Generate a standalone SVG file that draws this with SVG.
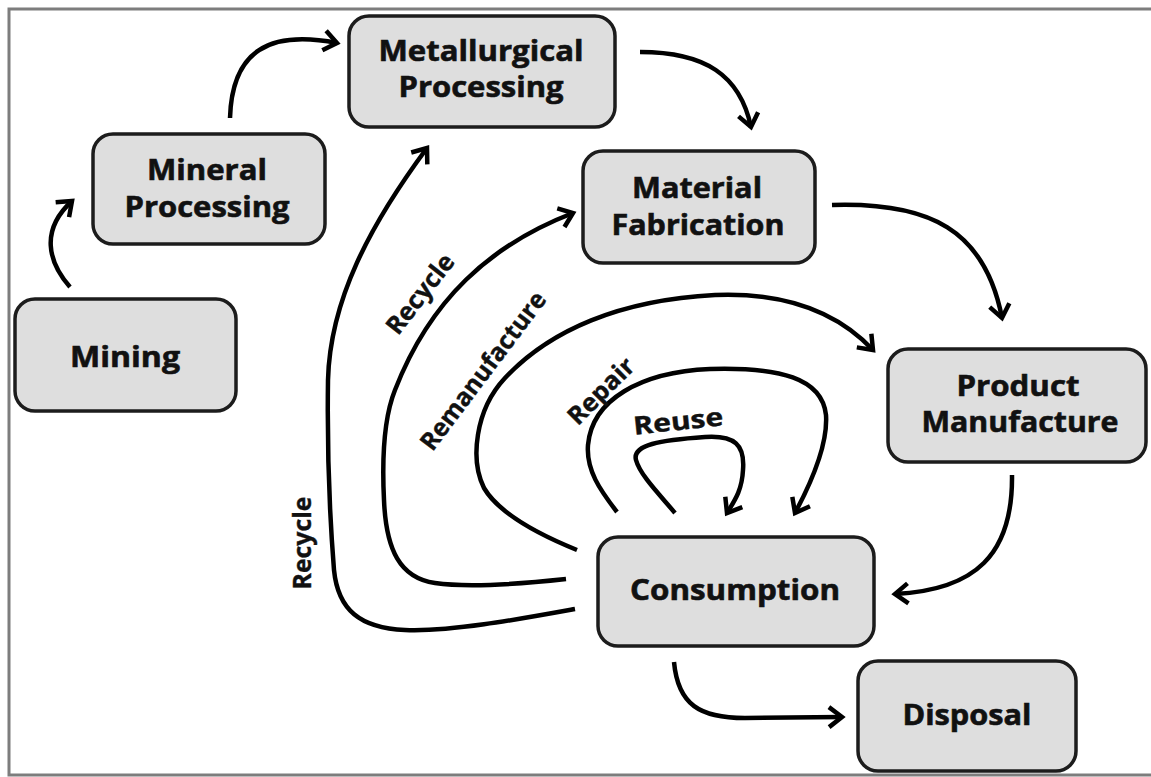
<svg xmlns="http://www.w3.org/2000/svg" width="1151" height="777" viewBox="0 0 1151 777">
<defs>
<style>
.box{fill:#dedede;stroke:#1c1c1c;stroke-width:3.5}
.t{font-family:"Open Sans","Liberation Sans",sans-serif;font-weight:700;font-size:28px;fill:#111;text-anchor:middle;stroke:#111;stroke-width:0.6}
.l{font-family:"Open Sans","Liberation Sans",sans-serif;font-weight:700;font-size:25px;fill:#111;text-anchor:middle;dominant-baseline:central;stroke:#111;stroke-width:0.4}
.c{fill:none;stroke:#000;stroke-width:4.5;stroke-linecap:butt;marker-end:url(#ah)}
</style>
<marker id="ah" markerUnits="userSpaceOnUse" markerWidth="40" markerHeight="40" viewBox="-20 -20 40 40" refX="0" refY="0" orient="auto">
<path d="M-13,-10 L0,0 L-13,10" fill="none" stroke="#000" stroke-width="4.5" stroke-linejoin="miter"/>
</marker>
</defs>
<rect x="0" y="0" width="1151" height="777" fill="#fff"/>
<rect x="9" y="9" width="1160" height="766" fill="none" stroke="#7d7d7d" stroke-width="3"/>

<g id="connectors">
<path class="c" d="M70,287 C48,262 40,230 72,201"/>
<path class="c" d="M230,118 C232,50 270,30 337,43"/>
<path class="c" d="M640,52 C705,52 740,75 751,127"/>
<path class="c" d="M832,205 C930,202 985,230 1002,318"/>
<path class="c" d="M1012,475 C1013,555 975,590 895,594"/>
<path class="c" d="M674,662 C678,705 700,718 745,718 L842,717"/>
<path class="c" d="M575,609 C520,619 450,632 405,630 C360,628 338,610 334,570 C330,520 327,450 328,380 C330,300 370,225 427,148"/>
<path class="c" d="M566,579 C520,584 470,588 435,583 C400,578 386,550 384,500 C382,460 383,420 395,390 C430,300 490,245 573,213"/>
<path class="c" d="M577,550 C540,535 500,515 484,488 C470,460 475,410 505,378 C550,330 620,300 715,295 C790,292 840,315 873,350"/>
<path class="c" d="M617,512 C600,490 586,470 588,445 C592,400 640,372 710,369 C780,367 822,378 826,415 C828,445 810,485 795,513"/>
<path class="c" d="M675,513 C660,495 640,475 636,460 C632,445 660,440 705,437 C735,435 745,445 743,470 C742,490 735,500 727,513"/>
<text class="l" transform="translate(301,543) rotate(-90)" textLength="93" lengthAdjust="spacingAndGlyphs">Recycle</text>
<text class="l" transform="translate(419,293) rotate(-52)" textLength="94" lengthAdjust="spacingAndGlyphs">Recycle</text>
<text class="l" transform="translate(482,370) rotate(-53)" textLength="191" lengthAdjust="spacingAndGlyphs">Remanufacture</text>
<text class="l" transform="translate(600,390) rotate(-45)" textLength="83" lengthAdjust="spacingAndGlyphs">Repair</text>
<text class="l" transform="translate(678,420) rotate(-6)" textLength="90" lengthAdjust="spacingAndGlyphs">Reuse</text>
</g>

<g id="mining">
<rect class="box" x="15" y="299" width="221" height="112" rx="20"/>
<text class="t" x="125" y="367" textLength="110" lengthAdjust="spacingAndGlyphs">Mining</text>
</g>
<g id="mineral-processing">
<rect class="box" x="93" y="134" width="232" height="110" rx="20"/>
<text class="t" x="207" y="180" textLength="120" lengthAdjust="spacingAndGlyphs">Mineral</text>
<text class="t" x="207" y="217" textLength="165" lengthAdjust="spacingAndGlyphs">Processing</text>
</g>
<g id="metallurgical-processing">
<rect class="box" x="349" y="16" width="266" height="111" rx="20"/>
<text class="t" x="481" y="61" textLength="205" lengthAdjust="spacingAndGlyphs">Metallurgical</text>
<text class="t" x="481" y="97" textLength="165" lengthAdjust="spacingAndGlyphs">Processing</text>
</g>
<g id="material-fabrication">
<rect class="box" x="583" y="151" width="232" height="112" rx="20"/>
<text class="t" x="697" y="198" textLength="130" lengthAdjust="spacingAndGlyphs">Material</text>
<text class="t" x="698" y="235" textLength="173" lengthAdjust="spacingAndGlyphs">Fabrication</text>
</g>
<g id="product-manufacture">
<rect class="box" x="888" y="349" width="258" height="113" rx="20"/>
<text class="t" x="1018" y="396" textLength="123" lengthAdjust="spacingAndGlyphs">Product</text>
<text class="t" x="1020" y="432" textLength="197" lengthAdjust="spacingAndGlyphs">Manufacture</text>
</g>
<g id="consumption">
<rect class="box" x="598" y="537" width="276" height="109" rx="20"/>
<text class="t" x="735" y="600" textLength="210" lengthAdjust="spacingAndGlyphs">Consumption</text>
</g>
<g id="disposal">
<rect class="box" x="858" y="661" width="218" height="110" rx="20"/>
<text class="t" x="967" y="725" textLength="129" lengthAdjust="spacingAndGlyphs">Disposal</text>
</g>
</svg>
